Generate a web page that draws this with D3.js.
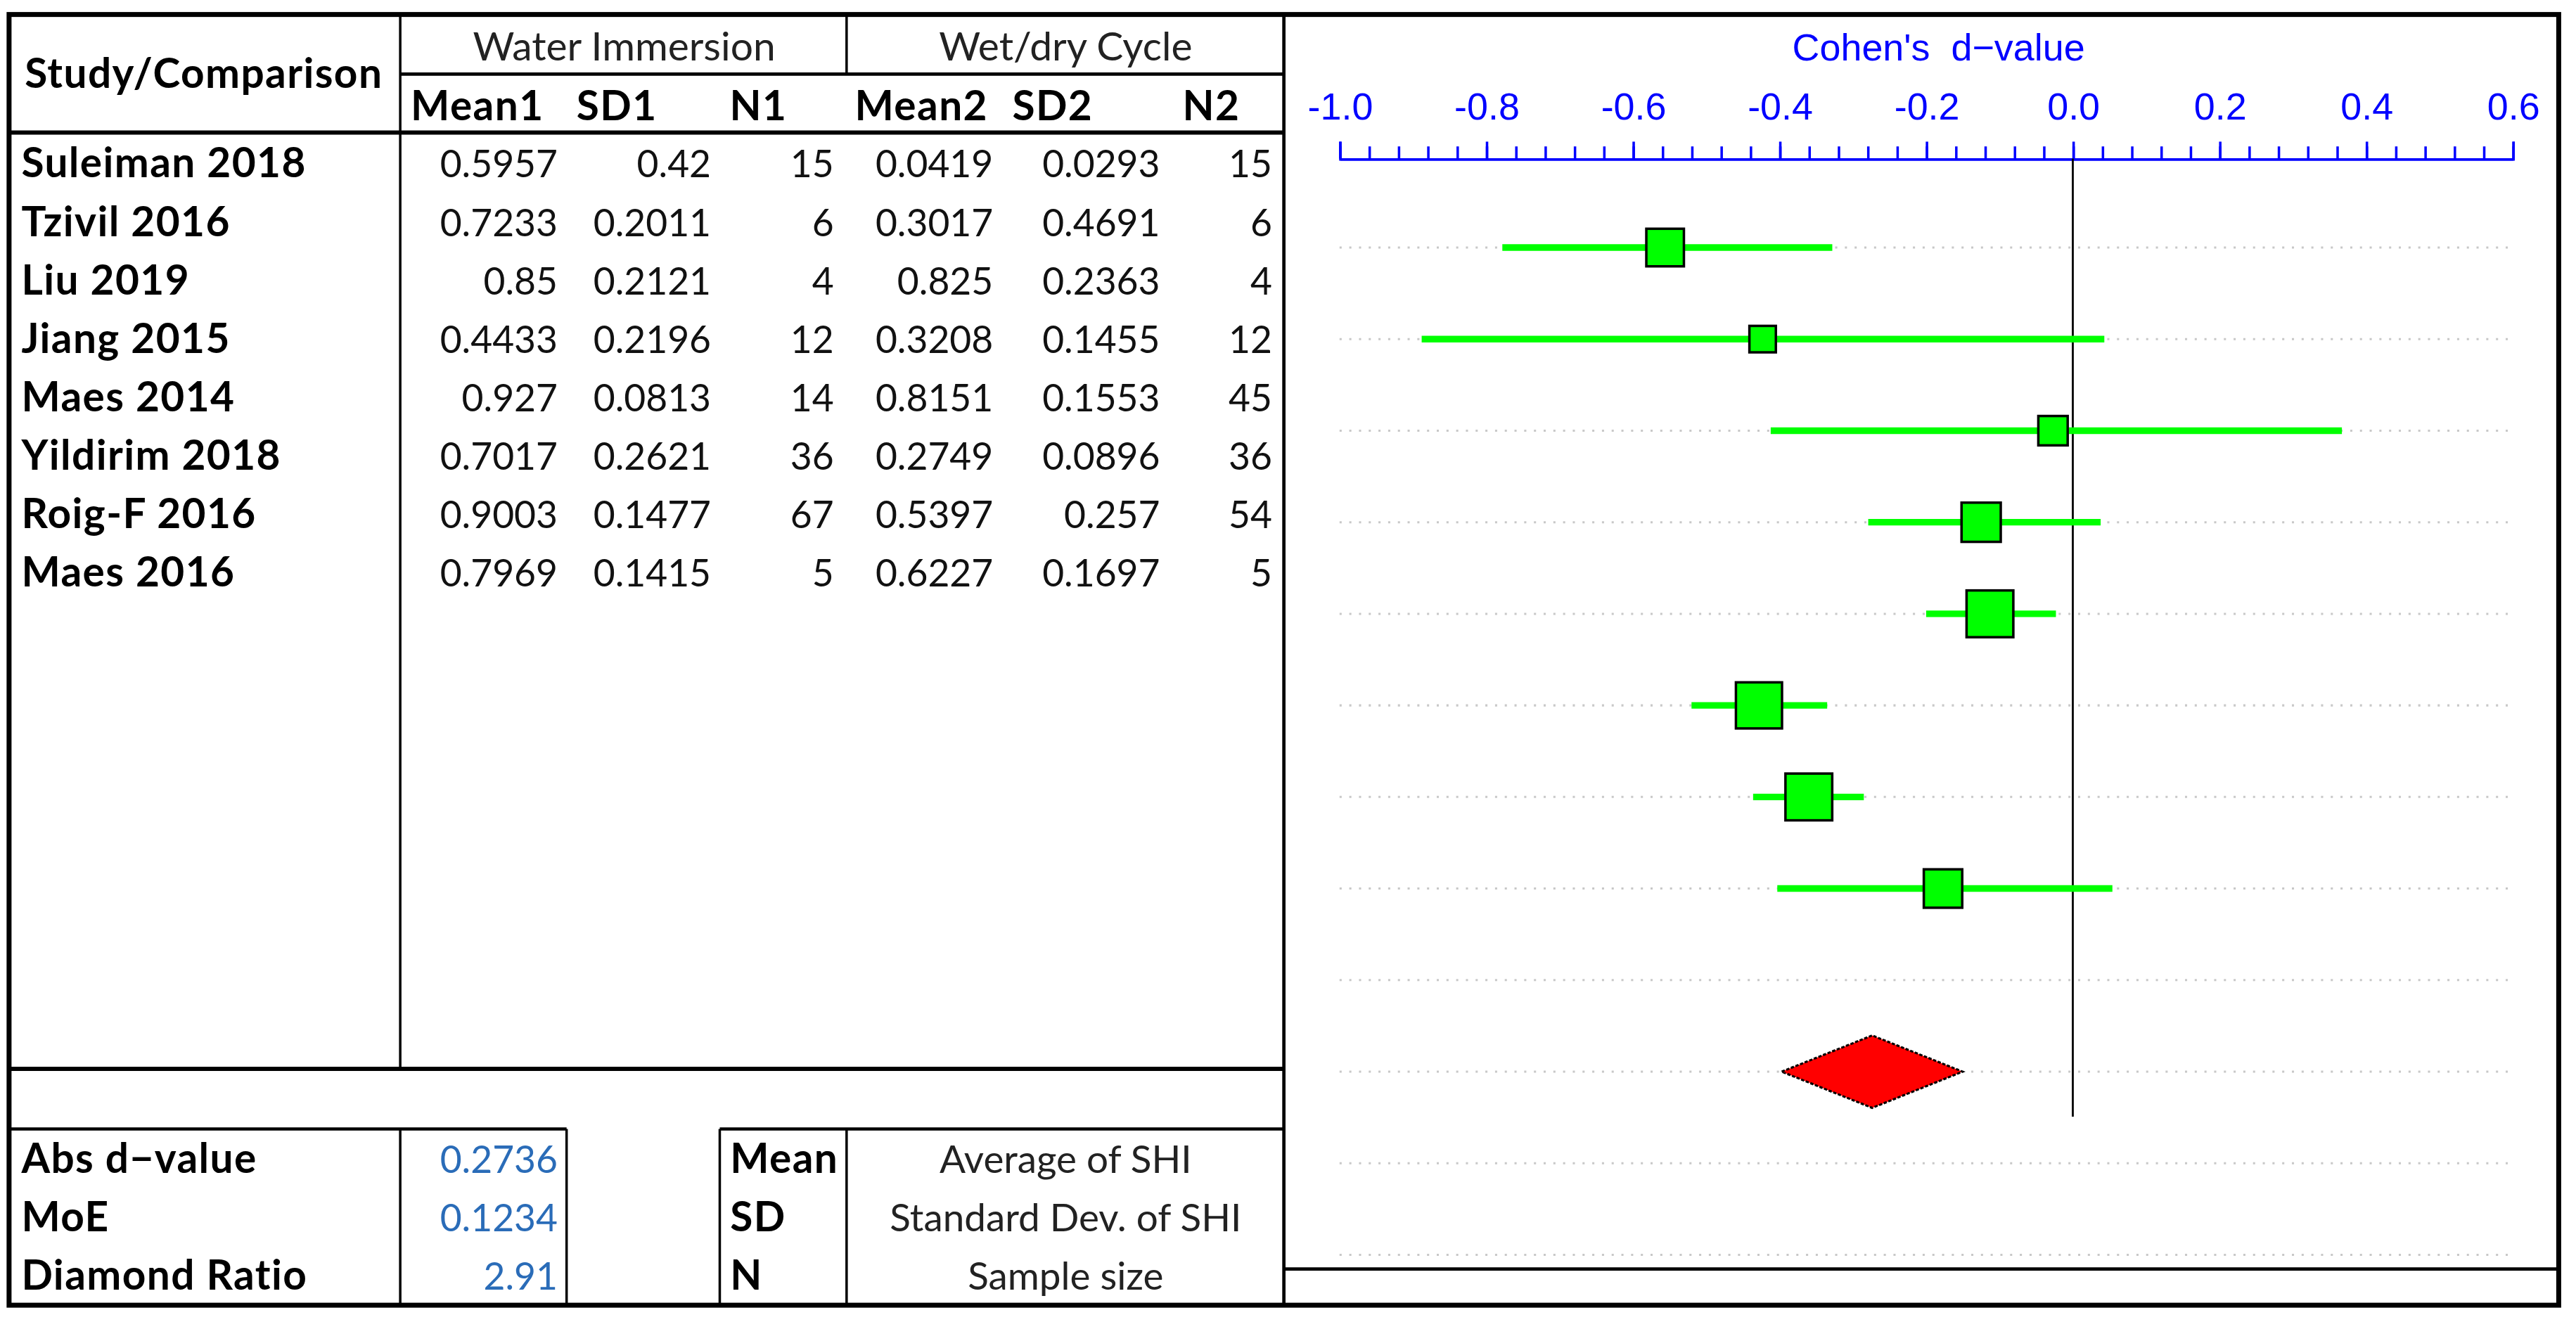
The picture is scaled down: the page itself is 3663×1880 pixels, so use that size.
<!doctype html>
<html lang="en">
<head>
	<meta charset="utf-8">
	<title>Forest plot - Cohen's d</title>
	<script src="https://cdn.jsdelivr.net/npm/d3@7/dist/d3.min.js"></script>
	<style>
		body { margin: 0; background: #fff; }
		text { font-family: Lato, "Open Sans", sans-serif; }
		text.bold { font-weight: bold; font-size: 25px; letter-spacing: 0.6px; }
	</style>
</head>
<body>
	<div id="viz"></div>
	<script>
		// table data
		var studies = ["Suleiman 2018", "Tzivil 2016", "Liu 2019", "Jiang 2015", "Maes 2014", "Yildirim 2018", "Roig-F 2016", "Maes 2016"];
		var mean1 = [0.5957, 0.7233, 0.85, 0.4433, 0.927, 0.7017, 0.9003, 0.7969];
		var sd1 = [0.42, 0.2011, 0.2121, 0.2196, 0.0813, 0.2621, 0.1477, 0.1415];
		var n1 = [15, 6, 4, 12, 14, 36, 67, 5];
		var mean2 = [0.0419, 0.3017, 0.825, 0.3208, 0.8151, 0.2749, 0.5397, 0.6227];
		var sd2 = [0.0293, 0.4691, 0.2363, 0.1455, 0.1553, 0.0896, 0.257, 0.1697];
		var n2 = [15, 6, 4, 12, 45, 36, 54, 5];
		var colHeaders = ["Mean1", "SD1", "N1", "Mean2", "SD2", "N2"];
		var groupHeaders = ["Water Immersion", "Wet/dry Cycle"];

		// forest plot data
		var dValue = [-0.556, -0.423, -0.027, -0.125, -0.113, -0.428, -0.360, -0.177];
		var ciLower = [-0.778, -0.888, -0.412, -0.279, -0.200, -0.520, -0.436, -0.403];
		var ciUpper = [-0.328, 0.043, 0.367, 0.038, -0.023, -0.335, -0.285, 0.054];
		var weight = [11.3, 5.6, 6.9, 12.3, 17.5, 17.0, 17.5, 11.8];
		var xTicks = [-1.0, -0.8, -0.6, -0.4, -0.2, 0.0, 0.2, 0.4, 0.6];

		// summary
		var pooledD = -0.2736;
		var moe = 0.1234;
		var statLabels = ["Abs d\u2212value", "MoE", "Diamond Ratio"];
		var statValues = [0.2736, 0.1234, 2.91];
		var keyTerms = ["Mean", "SD", "N"];
		var keyDesc = ["Average of SHI", "Standard Dev. of SHI", "Sample size"];

		var W = 1564, H = 802.7;
		var svg = d3.select("#viz").append("svg")
			.attr("width", 3663).attr("height", 1880)
			.attr("viewBox", "0 0 " + W + " " + H);

		function line(x1, y1, x2, y2, w) {
			svg.append("line").attr("x1", x1).attr("y1", y1).attr("x2", x2).attr("y2", y2)
				.attr("stroke", "#000").attr("stroke-width", w || 1.5);
		}

		//----- table grid
		var L = 5.5, R = 779.5, T = 8.8, B = 792.5;
		line(243, T, 243, 649, 1.5);
		line(514, T, 514, 45, 1.5);
		line(243, 45, R, 45, 2);
		line(L, 80.5, R, 80.5, 2.5);
		line(L, 649, R, 649, 2.5);
		line(L, 685.5, 344, 685.5, 2);
		line(437, 685.5, R, 685.5, 2);
		[243, 344, 437, 514].forEach(function(x) { line(x, 685.5, x, B, 1.5); });

		// chart panel
		line(R, T, R, B, 2);
		line(R, 770.5, 1553.5, 770.5, 2);
		svg.append("rect").attr("x", L).attr("y", T).attr("width", 1553.5 - L).attr("height", B - T)
			.attr("fill", "none").attr("stroke", "#000").attr("stroke-width", 3);

		//----- table text
		svg.append("text").attr("class", "bold").attr("x", 15).attr("y", 53.5)
			.text("Study/Comparison");
		svg.selectAll(".grp").data(groupHeaders).enter().append("text")
			.attr("x", function(d, i) { return [379, 647][i]; })
			.attr("y", 36.8).attr("text-anchor", "middle").attr("font-size", 24.3)
			.attr("fill", "#222").text(function(d) { return d; });
		var headX = [249.4, 350, 443, 519, 614.6, 718];
		svg.selectAll(".colh").data(colHeaders).enter().append("text")
			.attr("class", "bold")
			.attr("x", function(d, i) { return headX[i]; })
			.attr("y", 72.8)
			.text(function(d) { return d; });

		var rowY = d3.scaleLinear().domain([0, 7]).range([107.8, 356.3]);
		svg.selectAll(".name").data(studies).enter().append("text")
			.attr("class", "bold")
			.attr("x", 13).attr("y", function(d, i) { return rowY(i); })
			.text(function(d) { return d; });

		var cols = [mean1, sd1, n1, mean2, sd2, n2];
		var colRight = [338.6, 431.7, 506.3, 603, 704.3, 772.4];
		cols.forEach(function(col, c) {
			svg.selectAll(".c" + c).data(col).enter().append("text")
				.attr("x", colRight[c]).attr("y", function(d, i) { return rowY(i); })
				.attr("text-anchor", "end").attr("font-size", 22.8).attr("fill", "#111")
				.text(function(d) { return String(d); });
		});

		// bottom summary
		var statY = d3.scaleLinear().domain([0, 2]).range([712, 783]);
		svg.selectAll(".sl").data(statLabels).enter().append("text")
			.attr("class", "bold")
			.attr("x", 13).attr("y", function(d, i) { return statY(i); })
			.text(function(d) { return d; });
		svg.selectAll(".sv").data(statValues).enter().append("text")
			.attr("x", 338.6).attr("y", function(d, i) { return statY(i); })
			.attr("text-anchor", "end").attr("font-size", 22.8).attr("fill", "#2a6cb8")
			.text(function(d) { return String(d); });
		svg.selectAll(".kt").data(keyTerms).enter().append("text")
			.attr("class", "bold")
			.attr("x", 443.3).attr("y", function(d, i) { return statY(i); })
			.text(function(d) { return d; });
		svg.selectAll(".kd").data(keyDesc).enter().append("text")
			.attr("x", 647).attr("y", function(d, i) { return statY(i); })
			.attr("text-anchor", "middle").attr("font-size", 23.4).attr("fill", "#222")
			.text(function(d) { return d; });

		//----- forest plot
		var xScale = d3.scaleLinear().domain([-1.0, 0.6]).range([813.3, 1525.6]);
		var slotY = d3.scaleLinear().domain([0, 11]).range([150.3, 761.9]);
		var sizeScale = d3.scaleSqrt().domain([0, 17.5]).range([0, 28.4]);
		var axisY = 96.3;

		svg.append("text").attr("x", 1177).attr("y", 36.8).attr("text-anchor", "middle")
			.attr("font-size", 23).attr("fill", "#0000ff")
			.style("font-family", "'Liberation Sans', Arial, sans-serif")
			.style("white-space", "pre")
			.text("Cohen's  d\u2212value");

		// dotted row guides
		svg.selectAll(".guide").data(d3.range(12)).enter().append("line")
			.attr("x1", xScale(-1.0)).attr("x2", xScale(0.6))
			.attr("y1", function(d) { return slotY(d); }).attr("y2", function(d) { return slotY(d); })
			.attr("stroke", "#c8c8c8").attr("stroke-width", 1.3).attr("stroke-dasharray", "1.3 4.6");

		// axis: minor ticks every 0.04, labelled major ticks every 0.2
		var minorTicks = d3.range(0, 41).map(function(i) { return -1 + i * 0.04; });
		var minorAxis = d3.axisTop(xScale).tickValues(minorTicks).tickSize(7.4).tickSizeOuter(0).tickFormat("");
		var gMinor = svg.append("g").attr("transform", "translate(0," + axisY + ")").call(minorAxis);
		var majorAxis = d3.axisTop(xScale).tickValues(xTicks).tickSize(10.3).tickSizeOuter(10.3)
			.tickPadding(13.4).tickFormat(function(d) { return d.toFixed(1); });
		var gMajor = svg.append("g").attr("transform", "translate(0," + axisY + ")").call(majorAxis);
		[gMinor, gMajor].forEach(function(g) {
			g.selectAll("path,line").attr("stroke", "#0000ff").attr("stroke-width", 1.5);
			g.selectAll("text").attr("fill", "#0000ff").attr("font-size", 23)
				.style("font-family", "'Liberation Sans', Arial, sans-serif");
		});

		// zero line
		svg.append("line").attr("x1", xScale(0)).attr("x2", xScale(0))
			.attr("y1", axisY).attr("y2", 678)
			.attr("stroke", "#000").attr("stroke-width", 1.2);

		// CI lines
		svg.selectAll(".ci").data(dValue).enter().append("line")
			.attr("x1", function(d, i) { return xScale(ciLower[i]); })
			.attr("x2", function(d, i) { return xScale(ciUpper[i]); })
			.attr("y1", function(d, i) { return slotY(i); })
			.attr("y2", function(d, i) { return slotY(i); })
			.attr("stroke", "#00ff00").attr("stroke-width", 4);

		// squares
		svg.selectAll(".pt").data(dValue).enter().append("rect")
			.attr("x", function(d, i) { return xScale(d) - sizeScale(weight[i]) / 2; })
			.attr("y", function(d, i) { return slotY(i) - sizeScale(weight[i]) / 2; })
			.attr("width", function(d, i) { return sizeScale(weight[i]); })
			.attr("height", function(d, i) { return sizeScale(weight[i]); })
			.attr("fill", "#00ff00").attr("stroke", "#000").attr("stroke-width", 1.5);

		// summary diamond
		var dy = slotY(9), half = 22;
		svg.append("path")
			.attr("d", "M" + xScale(pooledD - moe) + "," + dy +
				"L" + xScale(pooledD) + "," + (dy - half) +
				"L" + xScale(pooledD + moe) + "," + dy +
				"L" + xScale(pooledD) + "," + (dy + half) + "Z")
			.attr("fill", "#ff0000").attr("stroke", "#000").attr("stroke-width", 1.3)
			.attr("stroke-dasharray", "2 1");
	</script>
</body>
</html>
